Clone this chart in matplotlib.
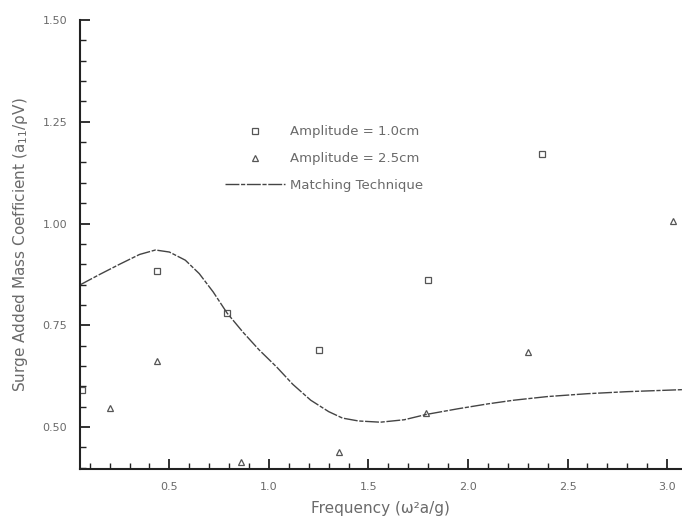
import numpy as np
import matplotlib.pyplot as plt
from matplotlib.ticker import MultipleLocator, FormatStrFormatter

# Données
freq_1cm = [0.06, 0.44, 0.79, 1.25, 1.80, 2.37]
coef_1cm = [0.591, 0.883, 0.780, 0.689, 0.861, 1.171]

freq_2cm = [0.20, 0.44, 0.86, 1.35, 1.79, 2.30, 3.03]
coef_2cm = [0.547, 0.662, 0.414, 0.439, 0.534, 0.684, 1.006]

freq_match = [0.05, 0.15, 0.25, 0.35, 0.43, 0.50, 0.58, 0.65, 0.72, 0.79, 0.87,
              0.95, 1.04, 1.12, 1.21, 1.30, 1.37, 1.45, 1.56, 1.68, 1.79, 1.95,
              2.10, 2.23, 2.40, 2.60, 2.80, 3.08]
coef_match = [0.849, 0.875, 0.900, 0.924, 0.935, 0.930, 0.910, 0.877, 0.832, 0.780, 0.733,
              0.690, 0.647, 0.605, 0.566, 0.538, 0.522, 0.515, 0.512, 0.518, 0.531, 0.545,
              0.557, 0.566, 0.575, 0.582, 0.587, 0.592]

grey = '#555555'
light = '#6a6a6a'

fig = plt.figure(figsize=(6.82, 5.21), dpi=100)
ax = fig.add_axes([0.117, 0.0998, 0.883, 0.8618])

ax.plot(freq_1cm, coef_1cm, linestyle='none', marker='s', markersize=5,
        markerfacecolor='white', markeredgecolor=grey, markeredgewidth=0.9,
        label='Amplitude = 1.0cm')
ax.plot(freq_2cm, coef_2cm, linestyle='none', marker='^', markersize=5,
        markerfacecolor='white', markeredgecolor=grey, markeredgewidth=0.9,
        label='Amplitude = 2.5cm')
ax.plot(freq_match, coef_match, color='#444444', linewidth=1.0,
        dashes=(10, 1.2, 3, 1.2), label='Matching Technique')

ax.set_xlim(0.05, 3.075)
ax.set_ylim(0.397, 1.50)

ax.xaxis.set_major_locator(MultipleLocator(0.5))
ax.xaxis.set_minor_locator(MultipleLocator(0.1))
ax.yaxis.set_major_locator(MultipleLocator(0.25))
ax.yaxis.set_minor_locator(MultipleLocator(0.05))
ax.xaxis.set_major_formatter(FormatStrFormatter('%.1f'))
ax.yaxis.set_major_formatter(FormatStrFormatter('%.2f'))

ax.set_xticks([0.5, 1.0, 1.5, 2.0, 2.5, 3.0])
ax.tick_params(which='major', direction='in', length=7, width=1.3, colors='#222222',
               labelcolor=light, labelsize=8, pad=9)
ax.tick_params(which='minor', direction='in', length=4, width=1.0, colors='#222222')

for side in ['top', 'right']:
    ax.spines[side].set_visible(False)
for side in ['left', 'bottom']:
    ax.spines[side].set_linewidth(1.5)
    ax.spines[side].set_color('#222222')

ax.set_xlabel('Frequency (ω²a/g)', color=light, fontsize=11, labelpad=7)
ax.set_ylabel('Surge Added Mass Coefficient (a$_{11}$/ρV)', color=light, fontsize=11, labelpad=9)

leg = ax.legend(loc='upper left', bbox_to_anchor=(0.222, 0.792), frameon=False,
                fontsize=9.5, handlelength=4.5, handletextpad=0.4, labelspacing=1.05,
                labelcolor=light)

plt.savefig('out.png', dpi=100)
